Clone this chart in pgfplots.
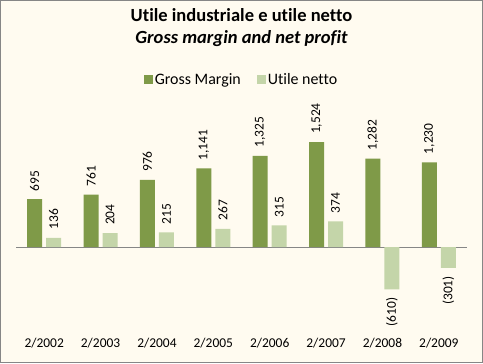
\documentclass[border=0pt]{standalone}
\usepackage{fontspec}
\setmainfont{Carlito}[Ligatures=NoCommon]
\usepackage{pgfplots}
\pgfplotsset{compat=1.18}
\definecolor{gm}{HTML}{7F9A48}
\definecolor{un}{HTML}{C4D5A9}
\definecolor{bg}{HTML}{FFFBF0}
\definecolor{frm}{HTML}{868686}
\pgfplotsset{sqlegend/.style={legend image code/.code={\fill[##1] (0bp,-4.5bp) rectangle (9bp,4.5bp);}}}
\begin{document}
\begin{tikzpicture}[x=1bp,y=1bp]
\useasboundingbox (0,0) rectangle (483,363);
\filldraw[fill=bg, draw=frm, line width=1bp] (0.5,0.5) rectangle (482.5,362.5);
\begin{axis}[
  at={(16bp,33bp)}, anchor=south west,
  scale only axis, width=451bp, height=234.6bp,
  xmin=-0.5, xmax=7.5, ymin=-1200, ymax=2200,
  axis line style={draw=none},
  xtick={0,...,7},
  xticklabels={2/2002,2/2003,2/2004,2/2005,2/2006,2/2007,2/2008,2/2009},
  xtick style={draw=none},
  ytick={0}, yticklabels={}, ytick style={draw=none},
  ymajorgrids, major grid style={frm, line width=1bp},
  ticklabel style={font=\fontsize{13.5}{15}\selectfont},
  ybar, bar width=15bp,
  clip=false,
  title={{\bfseries Utile industriale e utile netto}\\{\bfseries\itshape Gross margin and net profit}},
  title style={at={(0.5,1.262)}, anchor=center, align=center, font=\fontsize{18.6}{22}\selectfont},
  legend columns=2,
  legend style={at={(0.5,1.066)}, anchor=center, draw=none, fill=none,
    font=\fontsize{16}{18}\selectfont,
    /tikz/every even column/.append style={column sep=14bp}},
]
\addplot[fill=gm, draw=none, bar shift=-9.5bp, sqlegend,
  nodes near coords={\pgfmathprintnumber[fixed,precision=0,1000 sep={,},assume math mode=true]{\pgfplotspointmeta}},
  every node near coord/.append style={rotate=90, anchor=west, font=\fontsize{13.5}{15}\selectfont, inner xsep=8bp, text=black}]
  coordinates {(0,695) (1,761) (2,976) (3,1141) (4,1325) (5,1524) (6,1282) (7,1230)};
\addlegendentry{Gross Margin}
\addplot[fill=un, draw=none, bar shift=9.5bp, sqlegend,
  nodes near coords={\pgfmathprintnumber[fixed,precision=0,1000 sep={,},assume math mode=true]{\pgfplotspointmeta}},
  every node near coord/.append style={rotate=90, anchor=west, font=\fontsize{13.5}{15}\selectfont, inner xsep=8bp, text=black}]
  coordinates {(0,136) (1,204) (2,215) (3,267) (4,315) (5,374)};
\addlegendentry{Utile netto}
\addplot[fill=un, draw=none, bar shift=9.5bp, forget plot,
  point meta=explicit,
  nodes near coords={(\pgfmathprintnumber[fixed,precision=0,1000 sep={,},assume math mode=true]{\pgfplotspointmeta})},
  every node near coord/.append style={rotate=90, anchor=east, font=\fontsize{13.5}{15}\selectfont, inner xsep=8bp, text=black}]
  coordinates {(6,-610) [610] (7,-301) [301]};
\end{axis}
\end{tikzpicture}
\end{document}
